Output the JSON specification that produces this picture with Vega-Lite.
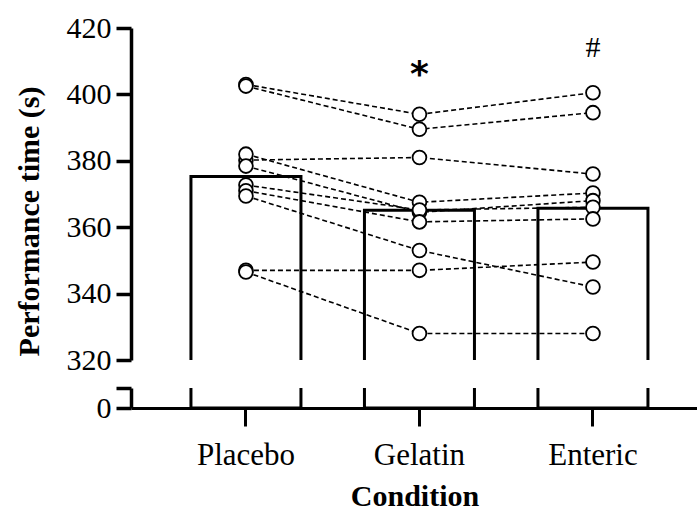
{
  "$schema": "https://vega.github.io/schema/vega-lite/v6.json",
  "background": "white",
  "autosize": {"type": "pad"},
  "padding": {"left": 13, "top": 13, "right": 0, "bottom": 0},
  "config": {
    "view": {"stroke": null},
    "font": "Liberation Serif",
    "axis": {
      "domainColor": "black", "domainWidth": 3, "tickColor": "black", "tickWidth": 3,
      "labelColor": "black", "labelFont": "Liberation Serif", "titleColor": "black",
      "titleFont": "Liberation Serif", "titleFontWeight": "bold", "grid": false
    }
  },
  "datasets": {
    "perf": [
      {"id": 1, "condition": "Placebo", "time": 403},
      {"id": 2, "condition": "Placebo", "time": 402.5},
      {"id": 3, "condition": "Placebo", "time": 380.2},
      {"id": 4, "condition": "Placebo", "time": 382},
      {"id": 5, "condition": "Placebo", "time": 378.4},
      {"id": 6, "condition": "Placebo", "time": 372.7},
      {"id": 7, "condition": "Placebo", "time": 371},
      {"id": 8, "condition": "Placebo", "time": 369.4},
      {"id": 9, "condition": "Placebo", "time": 347},
      {"id": 10, "condition": "Placebo", "time": 346.5},
      {"id": 1, "condition": "Gelatin", "time": 394},
      {"id": 2, "condition": "Gelatin", "time": 389.5},
      {"id": 3, "condition": "Gelatin", "time": 381},
      {"id": 4, "condition": "Gelatin", "time": 367.5},
      {"id": 5, "condition": "Gelatin", "time": 364.5},
      {"id": 6, "condition": "Gelatin", "time": 365.2},
      {"id": 7, "condition": "Gelatin", "time": 361.6},
      {"id": 8, "condition": "Gelatin", "time": 353},
      {"id": 9, "condition": "Gelatin", "time": 347},
      {"id": 10, "condition": "Gelatin", "time": 328},
      {"id": 1, "condition": "Enteric", "time": 400.5},
      {"id": 2, "condition": "Enteric", "time": 394.5},
      {"id": 3, "condition": "Enteric", "time": 376},
      {"id": 4, "condition": "Enteric", "time": 370.3},
      {"id": 5, "condition": "Enteric", "time": 368},
      {"id": 6, "condition": "Enteric", "time": 366},
      {"id": 7, "condition": "Enteric", "time": 362.5},
      {"id": 8, "condition": "Enteric", "time": 342},
      {"id": 9, "condition": "Enteric", "time": 349.5},
      {"id": 10, "condition": "Enteric", "time": 328}
    ],
    "sig": [
      {"condition": "Gelatin", "sig": "*"},
      {"condition": "Enteric", "sig": "#"}
    ]
  },
  "spacing": 28,
  "bounds": "flush",
  "vconcat": [
    {
      "width": 567,
      "height": 332,
      "data": {"name": "perf"},
      "encoding": {
        "x": {
          "field": "condition", "type": "nominal", "sort": ["Placebo", "Gelatin", "Enteric"],
          "scale": {"paddingInner": 0.366, "paddingOuter": 0.317, "align": 0.545},
          "axis": null
        },
        "y": {
          "field": "time", "type": "quantitative",
          "scale": {"domain": [320, 420], "zero": false, "nice": false},
          "axis": {
            "title": "Performance time (s)",
            "values": [320, 340, 360, 380, 400, 420],
            "domainColor": "black", "domainWidth": 3.5, "tickColor": "black", "tickWidth": 3.5,
            "tickSize": 15, "labelFontSize": 30, "labelPadding": 5,
            "titleFontSize": 30, "titleX": -102, "titleY": 193, "titleBaseline": "middle",
            "encode": {
              "ticks": {
                "update": {
                  "x": {"signal": "datum.value === 320 ? 8 : 0"},
                  "x2": {"signal": "datum.value === 320 ? -8 : -15"}
                }
              }
            }
          }
        }
      },
      "layer": [
        {
          "mark": {"type": "bar", "fill": "white", "stroke": "black", "strokeWidth": 3, "clip": true},
          "encoding": {
            "y": {"aggregate": "mean", "field": "time", "type": "quantitative"},
            "y2": {"datum": 0}
          }
        },
        {
          "mark": {"type": "line", "stroke": "black", "strokeWidth": 1.6, "strokeDash": [5, 3]},
          "encoding": {
            "detail": {"field": "id", "type": "nominal"}
          }
        },
        {
          "mark": {"type": "circle", "fill": "white", "stroke": "black", "strokeWidth": 1.8, "size": 190, "opacity": 1}
        },
        {
          "transform": [
            {"aggregate": [{"op": "max", "field": "time", "as": "top"}], "groupby": ["condition"]},
            {"lookup": "condition", "from": {"data": {"name": "sig"}, "key": "condition", "fields": ["sig"]}},
            {"filter": "datum.sig === '*'"}
          ],
          "mark": {"type": "text", "font": "DejaVu Sans", "fontWeight": "bold", "fontSize": 36, "dy": -39, "baseline": "middle", "color": "black"},
          "encoding": {
            "y": {"field": "top", "type": "quantitative"},
            "text": {"field": "sig"}
          }
        },
        {
          "transform": [
            {"aggregate": [{"op": "max", "field": "time", "as": "top"}], "groupby": ["condition"]},
            {"lookup": "condition", "from": {"data": {"name": "sig"}, "key": "condition", "fields": ["sig"]}},
            {"filter": "datum.sig === '#'"}
          ],
          "mark": {"type": "text", "font": "Liberation Serif", "fontSize": 30, "dy": -45, "baseline": "middle", "color": "black"},
          "encoding": {
            "y": {"field": "top", "type": "quantitative"},
            "text": {"field": "sig"}
          }
        }
      ]
    },
    {
      "width": 567,
      "height": 20,
      "data": {"name": "perf"},
      "mark": {"type": "bar", "fill": "white", "stroke": "black", "strokeWidth": 3, "clip": true},
      "encoding": {
        "x": {
          "field": "condition", "type": "nominal", "sort": ["Placebo", "Gelatin", "Enteric"],
          "scale": {"paddingInner": 0.366, "paddingOuter": 0.317, "align": 0.545},
          "axis": {
            "title": "Condition", "labelAngle": 0, "labelFontSize": 31, "labelPadding": 14,
            "tickSize": 18, "titleFontSize": 30, "titlePadding": 11
          }
        },
        "y": {
          "aggregate": "mean", "field": "time", "type": "quantitative",
          "scale": {"domain": [0, 20], "nice": false},
          "axis": {
            "title": null, "values": [0, 20], "tickSize": 15, "labelFontSize": 30, "labelPadding": 5,
            "domainColor": "black", "domainWidth": 3.5, "tickColor": "black", "tickWidth": 3.5,
            "labelExpr": "datum.value === 0 ? '0' : ''",
            "encode": {
              "ticks": {
                "update": {
                  "x": {"signal": "datum.value === 20 ? 8 : 0"},
                  "x2": {"signal": "datum.value === 20 ? -8 : -15"}
                }
              }
            }
          }
        }
      }
    }
  ]
}
